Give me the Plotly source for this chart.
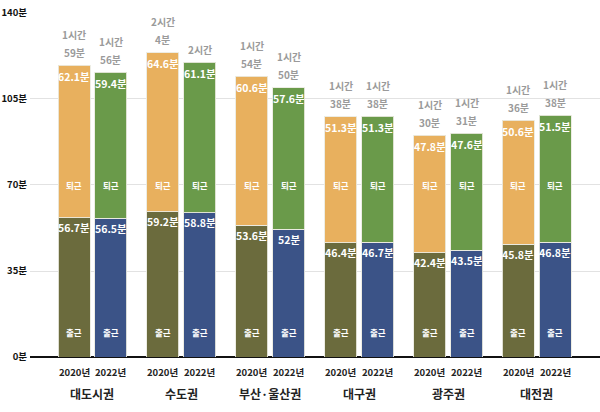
import plotly.graph_objects as go

regions = ['대도시권', '수도권', '부산·울산권', '대구권', '광주권', '대전권']
years = ['2020년', '2022년']
go_2020 = [56.7, 59.2, 53.6, 46.4, 42.4, 45.8]
back_2020 = [62.1, 64.6, 60.6, 51.3, 47.8, 50.6]
go_2022 = [56.5, 58.8, 52, 46.7, 43.5, 46.8]
back_2022 = [59.4, 61.1, 57.6, 51.3, 47.6, 51.5]
total_2020 = ['1시간<br>59분', '2시간<br>4분', '1시간<br>54분', '1시간<br>38분', '1시간<br>30분', '1시간<br>36분']
total_2022 = ['1시간<br>56분', '2시간', '1시간<br>50분', '1시간<br>38분', '1시간<br>31분', '1시간<br>38분']
y_ticks = [0, 35, 70, 105, 140]
y_tick_text = ['0분', '35분', '70분', '105분', '140분']

C_GO20 = '#6b6b3d'
C_BACK20 = '#e8b05e'
C_GO22 = '#3b5387'
C_BACK22 = '#6a9a4a'

FONT = 'Noto Sans CJK KR, sans-serif'
OFF = 0.208
W = 0.36
idx = list(range(len(regions)))
x20 = [i - OFF for i in idx]
x22 = [i + OFF for i in idx]

fig = go.Figure()
line = dict(color='rgba(235,235,225,0.9)', width=1)
fig.add_bar(x=x20, y=go_2020, width=W, marker=dict(color=C_GO20, line=line), name='2020 출근')
fig.add_bar(x=x20, y=back_2020, width=W, marker=dict(color=C_BACK20, line=line), name='2020 퇴근')
fig.add_bar(x=x22, y=go_2022, width=W, marker=dict(color=C_GO22, line=line), name='2022 출근')
fig.add_bar(x=x22, y=back_2022, width=W, marker=dict(color=C_BACK22, line=line), name='2022 퇴근')

ann = []
white = dict(family=FONT, size=10.5, color='white')
small_white = dict(family=FONT, size=8.5, color='white')
gray = dict(family=FONT, size=10, color='#9a9a9a')

def add_stack(xs, gos, backs, totals):
    for x, g, b, t in zip(xs, gos, backs, totals):
        top = g + b
        ann.append(dict(x=x, y=top, text=f'<b>{b:g}분</b>', font=white, showarrow=False,
                        yanchor='middle', yshift=-11))
        ann.append(dict(x=x, y=g, text=f'<b>{g:g}분</b>', font=white, showarrow=False,
                        yanchor='middle', yshift=-10))
        ann.append(dict(x=x, y=70, text='<b>퇴근</b>', font=small_white, showarrow=False, yanchor='middle'))
        ann.append(dict(x=x, y=10, text='<b>출근</b>', font=small_white, showarrow=False, yanchor='middle'))
        parts = t.split('<br>')
        for k, p in enumerate(reversed(parts)):
            ann.append(dict(x=x, y=top, text=f'<b>{p}</b>', font=gray, showarrow=False,
                            yanchor='middle', yshift=13 + 18 * k))

add_stack(x20, go_2020, back_2020, total_2020)
add_stack(x22, go_2022, back_2022, total_2022)

for i, r in enumerate(regions):
    for xv, yr in ((x20[i], years[0]), (x22[i], years[1])):
        ann.append(dict(x=xv, y=0, text=f'<b>{yr}</b>', font=dict(family=FONT, size=9.5, color='#222'),
                        showarrow=False, yanchor='middle', yshift=-15))
    ann.append(dict(x=i, y=0, text=f'<b>{r}</b>', font=dict(family=FONT, size=12, color='#222'),
                    showarrow=False, yanchor='middle', yshift=-36))

fig.update_layout(
    barmode='stack',
    width=600, height=412,
    margin=dict(l=30, r=0, t=12, b=55),
    paper_bgcolor='white', plot_bgcolor='white',
    showlegend=False,
    annotations=ann,
    xaxis=dict(range=[-0.703, 5.709], showticklabels=False, showgrid=False, zeroline=False,
               showline=False, fixedrange=True, automargin=False),
    yaxis=dict(range=[0, 140.4], tickvals=y_ticks, ticktext=[f'<b>{t}</b>' for t in y_tick_text],
               tickfont=dict(family=FONT, size=9.5, color='#111'), showgrid=True,
               gridcolor='#e2e2e2', gridwidth=1, zeroline=True, zerolinecolor='#111',
               zerolinewidth=2, ticks='', ticklen=0, automargin=False, ticklabelstandoff=2,
               fixedrange=True),
)

fig.write_html('out.html', config={'displayModeBar': False},
               post_script='document.body.style.margin="0";document.body.style.padding="0";')
